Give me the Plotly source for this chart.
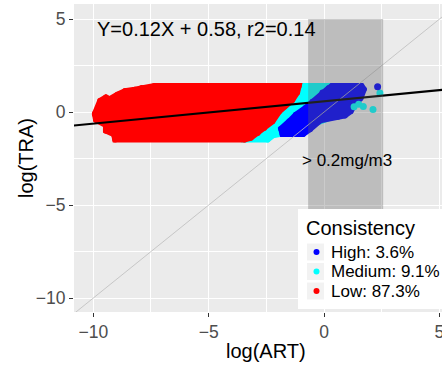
import plotly.graph_objects as go

# Least-squares fit of log(TRA) on log(ART)
SLOPE = 0.12
INTERCEPT = 0.58
R2 = 0.14

# Outline of the dense point cloud for each consistency class (log ART, log TRA)
low_x = [-9.93, -9.70, -9.45, -9.30, -8.95, -8.62, -8.20, -7.90, -7.35, -1.10,
         -1.17, -1.38, -1.72, -1.95, -2.24, -2.60, -2.88, -3.18, -3.45, -9.05,
         -9.10, -9.45, -9.45, -9.88]
low_y = [-0.10, 0.60, 0.78, 0.68, 0.93, 1.13, 1.20, 1.30, 1.40, 1.40,
         1.05, 0.65, 0.30, 0.03, -0.50, -0.86, -1.12, -1.38, -1.48, -1.48,
         -1.20, -1.00, -0.70, -0.42]

med_x = [-1.30, 0.80, 0.80, 0.40, -0.70, -1.60, -2.22, -2.45, -3.40, -3.20, -1.90]
med_y = [1.40, 1.40, 0.15, -0.25, -0.75, -1.10, -1.25, -1.48, -1.48, -0.97, 0.65]

high_x = [0.35, 1.62, 1.72, 1.58, 1.32, 1.15, 0.90, 0.60, -0.17, -0.61,
          -0.91, -1.80, -1.86, -1.50, -1.22, -0.80, -0.50, -0.07, 0.20]
high_y = [1.40, 1.40, 1.22, 0.75, 0.40, 0.05, -0.18, -0.25, -0.45, -0.92,
          -1.18, -1.18, -0.90, -0.50, -0.15, 0.22, 0.55, 1.05, 1.28]

# Individual points lying off the main clouds
med_pts_x = [1.30, 1.50, 1.70, 2.12, 2.42]
med_pts_y = [0.28, 0.42, 0.30, 0.14, 1.02]
high_pts_x = [2.32]
high_pts_y = [1.36]

# Legend content
classes = ["High", "Medium", "Low"]
shares = [3.6, 9.1, 87.3]
class_colors = ["#0000FF", "#00FFFF", "#FF0000"]

# Concentration window
win_x = [-0.69, 2.56]
win_y = [-10.0, 5.0]
win_label = "> 0.2mg/m3"

x_range = [-10.835, 5.11]
y_range = [-10.75, 5.81]

FONT = "Liberation Sans, Arial, sans-serif"
W, H = 442, 366
ML, MR, MT, MB = 74, 0, 4, 54
PW = W - ML - MR
PH = H - MT - MB


def px(xp):
    return (xp - ML) / PW


def py(yp):
    return (H - MB - yp) / PH


fig = go.Figure()


def cloud(xs, ys, color):
    fig.add_trace(go.Scatter(
        x=xs + xs[:1], y=ys + ys[:1], mode="lines+markers", fill="toself",
        fillcolor=color, line=dict(color=color, width=6),
        marker=dict(color=color, size=6), showlegend=False, hoverinfo="skip"))


def dots(xs, ys, color):
    fig.add_trace(go.Scatter(
        x=xs, y=ys, mode="markers", marker=dict(color=color, size=7),
        showlegend=False, hoverinfo="skip"))


cloud(med_x, med_y, class_colors[1])
cloud(low_x, low_y, class_colors[2])
cloud(high_x, high_y, class_colors[0])
dots(med_pts_x, med_pts_y, class_colors[1])
dots(high_pts_x, high_pts_y, class_colors[0])

# 1:1 line
fig.add_trace(go.Scatter(x=[-12, 7], y=[-12, 7], mode="lines",
                         line=dict(color="#BDBDBD", width=0.8),
                         showlegend=False, hoverinfo="skip"))
# fitted line
fit_x = [x_range[0] - 1, x_range[1] + 1]
fit_y = [SLOPE * v + INTERCEPT for v in fit_x]
fig.add_trace(go.Scatter(x=fit_x, y=fit_y, mode="lines",
                         line=dict(color="black", width=2),
                         showlegend=False, hoverinfo="skip"))

shapes = [
    dict(type="rect", xref="x", yref="y", x0=win_x[0], x1=win_x[1],
         y0=win_y[0], y1=win_y[1], fillcolor="rgba(96,96,96,0.33)",
         line=dict(width=0), layer="above"),
    dict(type="rect", xref="paper", yref="paper", x0=px(298), x1=px(460),
         y0=py(309), y1=py(209), fillcolor="white", line=dict(width=0),
         layer="above"),
]

annotations = [
    dict(x=-9.83, y=4.47, xref="x", yref="y", xanchor="left", yanchor="middle",
         text=f"Y={SLOPE}X + {INTERCEPT}, r2={R2}", showarrow=False, xshift=-2,
         font=dict(family=FONT, size=20, color="black")),
    dict(x=win_x[0] - 0.26, y=-2.58, xref="x", yref="y", xanchor="left",
         yanchor="middle", text=win_label, showarrow=False, xshift=-2,
         font=dict(family=FONT, size=17, color="black")),
    dict(x=px(306), y=py(228), xref="paper", yref="paper", xanchor="left",
         yanchor="middle", text="Consistency", showarrow=False, xshift=-2,
         font=dict(family=FONT, size=20, color="black")),
    dict(x=px(265.5), y=py(351), xref="paper", yref="paper", xanchor="center",
         yanchor="middle", text="log(ART)", showarrow=False,
         font=dict(family=FONT, size=20, color="black")),
    dict(x=px(26), y=py(158), xref="paper", yref="paper", xanchor="center",
         yanchor="middle", text="log(TRA)", showarrow=False, textangle=-90,
         font=dict(family=FONT, size=20, color="black")),
]

item_y = [252, 271.5, 291]
for name, share, color, cy in zip(classes, shares, class_colors, item_y):
    shapes.append(dict(type="rect", xref="paper", yref="paper",
                       x0=px(307), x1=px(324), y0=py(cy + 8.5), y1=py(cy - 8.5),
                       fillcolor="#F2F2F2", line=dict(width=0), layer="above"))
    shapes.append(dict(type="circle", xref="paper", yref="paper",
                       xsizemode="pixel", ysizemode="pixel",
                       xanchor=px(316.5), yanchor=py(cy),
                       x0=-3, x1=3, y0=-3, y1=3,
                       fillcolor=color, line=dict(width=0), layer="above"))
    annotations.append(dict(x=px(330.7), y=py(cy), xref="paper", yref="paper",
                            xanchor="left", yanchor="middle", xshift=-2,
                            text=f"{name}: {share}%", showarrow=False,
                            font=dict(family=FONT, size=17, color="black")))

axis_common = dict(
    tickmode="linear", tick0=0, dtick=5, ticks="outside", ticklen=4,
    tickwidth=1.2, tickcolor="#333333",
    tickfont=dict(family=FONT, size=17.5, color="#4D4D4D"),
    ticklabeloverflow="allow",
    showgrid=True, gridcolor="white", gridwidth=1.3,
    minor=dict(tick0=0, dtick=2.5, showgrid=True, gridcolor="white",
               gridwidth=0.6, ticks=""),
    zeroline=False, showline=False, automargin=False, fixedrange=True,
)

fig.update_layout(
    width=W, height=H,
    margin=dict(l=ML, r=MR, t=MT, b=MB, autoexpand=False),
    paper_bgcolor="white", plot_bgcolor="#EBEBEB",
    font=dict(family=FONT),
    xaxis=dict(range=x_range, **axis_common),
    yaxis=dict(range=y_range, **axis_common),
    shapes=shapes, annotations=annotations, showlegend=False,
)

fig.write_html("out.html")
